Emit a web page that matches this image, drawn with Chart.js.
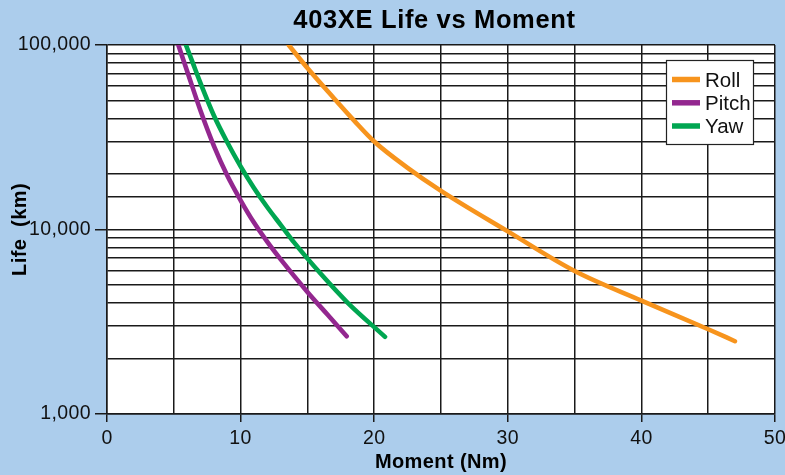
<!DOCTYPE html>
<html>
<head>
<meta charset="utf-8">
<script src="https://cdn.jsdelivr.net/npm/chart.js@4.4.1/dist/chart.umd.min.js"></script>
<style>
html,body{margin:0;padding:0;background:#accdec;}
#wrap{width:785px;height:475px;}
</style>
</head>
<body>
<div id="wrap"><canvas id="c" width="785" height="475"></canvas></div>
<script>
// ---- data ----
const chartTitle = '403XE Life vs Moment';
const xTitle = 'Moment (Nm)';
const yTitle = 'Life  (km)';
const seriesNames = ['Roll', 'Pitch', 'Yaw'];
const seriesColors = ['#f7941d', '#93278f', '#00a651'];

const rollX  = [13.6, 15, 17, 18.5, 20, 22.5, 25, 30, 35, 40, 45, 47];
const rollY  = [100000, 75000, 51300, 38900, 30000, 21600, 16200, 9770, 5960, 4120, 2880, 2480];

const pitchX = [5.34, 6, 7, 8, 9, 10, 11, 12, 13, 15, 16.5, 17.94];
const pitchY = [100000, 72100, 44000, 28400, 19600, 14400, 10900, 8570, 6890, 4590, 3460, 2640];

const yawX   = [5.91, 6.4, 7, 8, 9, 10, 11, 12, 13, 14, 16, 18, 20.81];
const yawY   = [100000, 80700, 62100, 41500, 29700, 22000, 16800, 13200, 10600, 8510, 5750, 4020, 2620];

const xTickValues = [0, 10, 20, 30, 40, 50];
const yTickLabels = {1000: '1,000', 10000: '10,000', 100000: '100,000'};

// ---- chart ----
const FONT = "'Liberation Sans', Arial, Helvetica, sans-serif";
const BG = '#accdec';
const GRID = '#1a1a1a';

function pts(xs, ys) { return xs.map((x, i) => ({x: x, y: ys[i]})); }

const seriesData = [pts(rollX, rollY), pts(pitchX, pitchY), pts(yawX, yawY)];

const bgPlugin = {
  id: 'bg',
  beforeDraw(chart) {
    const {ctx, chartArea: a} = chart;
    ctx.save();
    ctx.fillStyle = BG;
    ctx.fillRect(0, 0, chart.width, chart.height);
    ctx.fillStyle = '#ffffff';
    ctx.fillRect(a.left, a.top, a.right - a.left, a.bottom - a.top);
    ctx.restore();
    ctx.letterSpacing = '0.4px';
  },
  afterDraw(chart) {
    const ctx = chart.ctx;
    // title
    ctx.save();
    ctx.letterSpacing = '0.65px';
    ctx.fillStyle = '#000';
    ctx.font = 'bold 25.5px ' + FONT;
    ctx.textAlign = 'center';
    ctx.textBaseline = 'middle';
    ctx.fillText(chartTitle, 434.5, 20.5);
    ctx.restore();

    // legend
    ctx.save();
    ctx.letterSpacing = '0px';
    const bx = 666.5, by = 60.5, bw = 87, bh = 84;
    ctx.fillStyle = '#fff';
    ctx.fillRect(bx, by, bw, bh);
    ctx.strokeStyle = '#222';
    ctx.lineWidth = 1.2;
    ctx.strokeRect(bx, by, bw, bh);
    const rows = [79.5, 102.8, 126];
    ctx.font = '20.5px ' + FONT;
    ctx.textAlign = 'left';
    ctx.textBaseline = 'alphabetic';
    chart.data.datasets.forEach((ds, i) => {
      const y = rows[i];
      ctx.strokeStyle = ds.borderColor;
      ctx.lineWidth = 5.5;
      ctx.lineCap = 'butt';
      ctx.beginPath();
      ctx.moveTo(672, y);
      ctx.lineTo(700, y);
      ctx.stroke();
      ctx.fillStyle = '#111';
      ctx.fillText(ds.label, 705, y + 7.3);
    });
    ctx.restore();
  }
};

new Chart(document.getElementById('c'), {
  type: 'line',
  data: {
    datasets: seriesNames.map((name, i) => ({
      label: name,
      data: seriesData[i],
      borderColor: seriesColors[i],
      backgroundColor: seriesColors[i],
      borderWidth: 4.6,
      pointRadius: 0,
      pointHoverRadius: 0,
      cubicInterpolationMode: 'monotone',
      borderCapStyle: 'round',
      borderJoinStyle: 'round',
      fill: false
    }))
  },
  options: {
    responsive: false,
    animation: false,
    devicePixelRatio: 1,
    layout: {padding: {left: 0, right: 10, top: 45, bottom: 0}},
    plugins: {
      legend: {display: false},
      title: {display: false},
      tooltip: {enabled: false}
    },
    scales: {
      x: {
        type: 'linear',
        min: 0,
        max: 50,
        ticks: {
          stepSize: 5,
          autoSkip: false,
          maxRotation: 0,
          padding: 5,
          color: '#111',
          font: {family: FONT, size: 19.5},
          callback: (v) => xTickValues.includes(v) ? String(v) : ''
        },
        grid: {
          color: GRID,
          lineWidth: 1.5,
          tickLength: 8,
          tickColor: (c) => (c.tick && xTickValues.includes(c.tick.value)) ? GRID : 'rgba(0,0,0,0)'
        },
        border: {display: true, color: GRID, width: 1.5},
        title: {
          display: true,
          text: xTitle,
          color: '#000',
          font: {family: FONT, size: 20, weight: 'bold'},
          padding: {top: 0, bottom: 1}
        },
        afterFit: (s) => { s.height = 61; s.paddingLeft = 0; s.paddingRight = 0; }
      },
      y: {
        type: 'logarithmic',
        min: 1000,
        max: 100000,
        ticks: {
          autoSkip: false,
          padding: 4,
          color: '#111',
          font: {family: FONT, size: 19.5},
          callback: (v) => yTickLabels[v] || ''
        },
        grid: {
          color: GRID,
          lineWidth: 1.5,
          tickLength: 12,
          tickColor: (c) => (c.tick && yTickLabels[c.tick.value]) ? GRID : 'rgba(0,0,0,0)'
        },
        border: {display: true, color: GRID, width: 1.5},
        title: {
          display: true,
          text: yTitle,
          color: '#000',
          font: {family: FONT, size: 20, weight: 'bold'},
          padding: {top: 8, bottom: 0}
        },
        afterFit: (s) => { s.width = 107; s.paddingTop = 0; s.paddingBottom = 0; }
      }
    }
  },
  plugins: [bgPlugin]
});
</script>
</body>
</html>
